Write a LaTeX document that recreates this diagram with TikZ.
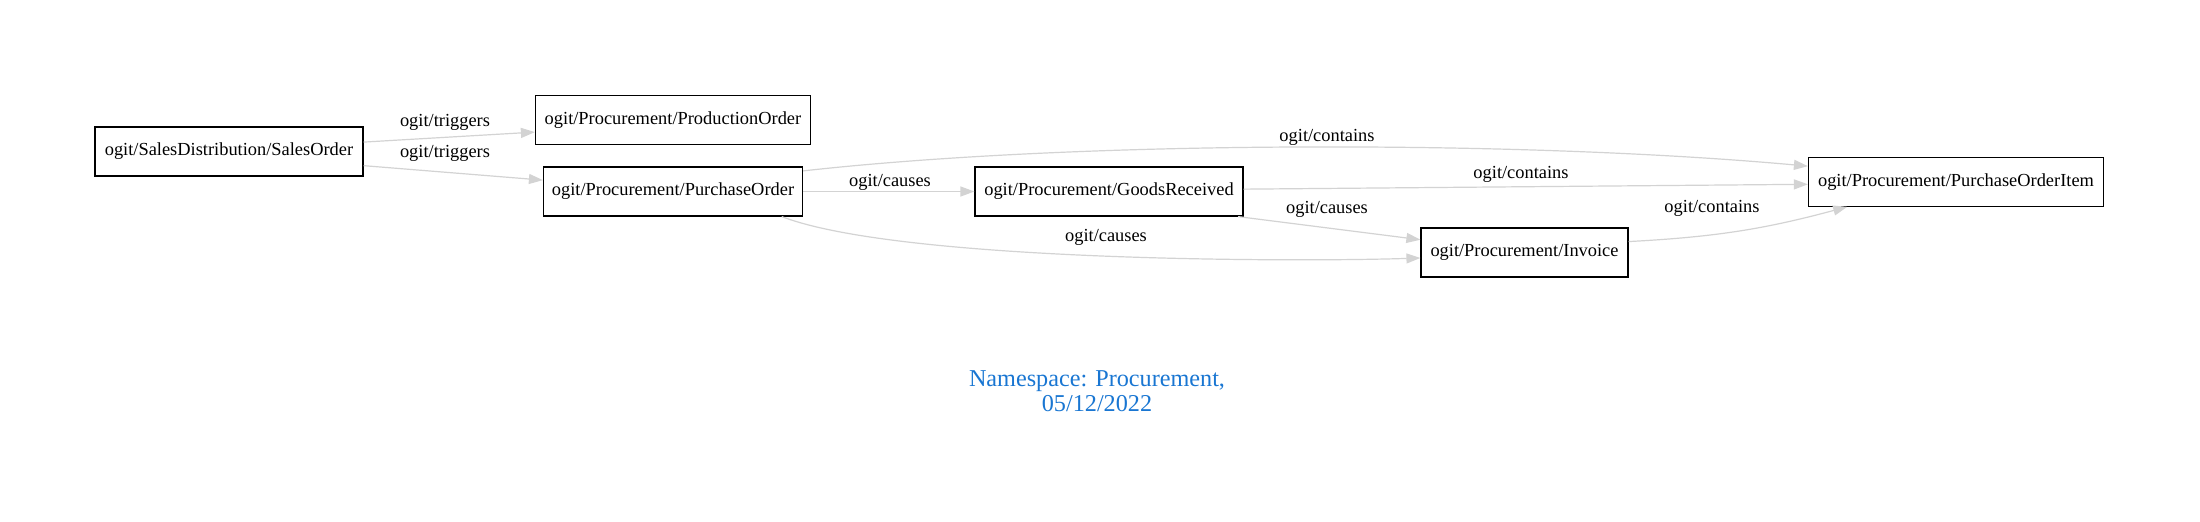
\documentclass[tikz,border=0pt]{standalone}
\usepackage{fontspec}
\setmainfont{Liberation Serif}
\usetikzlibrary{arrows.meta}
\definecolor{edgegray}{RGB}{211,211,211}
\definecolor{titleblue}{RGB}{25,118,210}
\begin{document}
\begin{tikzpicture}[x=0.5pt,y=-0.5pt,
  entity/.style={draw=black,line width=0.6pt,rectangle,minimum height=24.5pt,inner sep=0pt,font=\fontsize{9.2}{11}\selectfont},
  rel/.style={draw=edgegray,line width=0.6pt,-{Triangle[length=7pt,width=5pt]}},
  lbl/.style={font=\fontsize{9.2}{11}\selectfont,inner sep=0pt}]
\useasboundingbox (0,0) rectangle (2200,521);
\node[entity,minimum width=134pt] (so) at (229,151.5) {ogit/SalesDistribution/SalesOrder};
\node[entity,minimum width=137.5pt] (prod) at (673,120) {ogit/Procurement/ProductionOrder};
\node[entity,minimum width=129.5pt] (po) at (673,191.5) {ogit/Procurement/PurchaseOrder};
\node[entity,minimum width=134pt] (gr) at (1109,191.5) {ogit/Procurement/GoodsReceived};
\node[entity,minimum width=147.5pt] (poi) at (1956,181.7) {ogit/Procurement/PurchaseOrderItem};
\node[entity,minimum width=103.5pt] (inv) at (1524.5,252.5) {ogit/Procurement/Invoice};

\draw[rel] (so.4.9) -- (prod.185);
\draw[rel] (so.354.7) -- (po.175);
\draw[rel] (po.east) -- (gr.west);
\draw[rel] (po.9.5) .. controls (1080,140) and (1520,140) .. (poi.174.3);
\draw[rel] (gr.1) -- (poi.181);
\draw[rel] (gr.349) -- (inv.173.7);
\draw[rel] (po.347.2) .. controls (900,262) and (1300,262) .. (inv.183.9);
\draw[rel] (inv.6.9) to[bend right=6] (poi.193.5);

\node[lbl] (l1) at (445,122) {ogit/triggers};
\node[lbl] (l2) at (445,153) {ogit/triggers};
\node[lbl] (l3) at (890,182) {ogit/causes};
\node[lbl] (l4) at (1327,137) {ogit/contains};
\node[lbl] (l5) at (1521,174) {ogit/contains};
\node[lbl] (l6) at (1327,209) {ogit/causes};
\node[lbl] (l7) at (1106,237) {ogit/causes};
\node[lbl] (l8) at (1712,208) {ogit/contains};

\node[font=\fontsize{12.1}{12.5}\selectfont,text=titleblue,align=center,inner sep=0pt] (title) at (1097,391.5) {Namespace: Procurement,\\05/12/2022};
\end{tikzpicture}
\end{document}
